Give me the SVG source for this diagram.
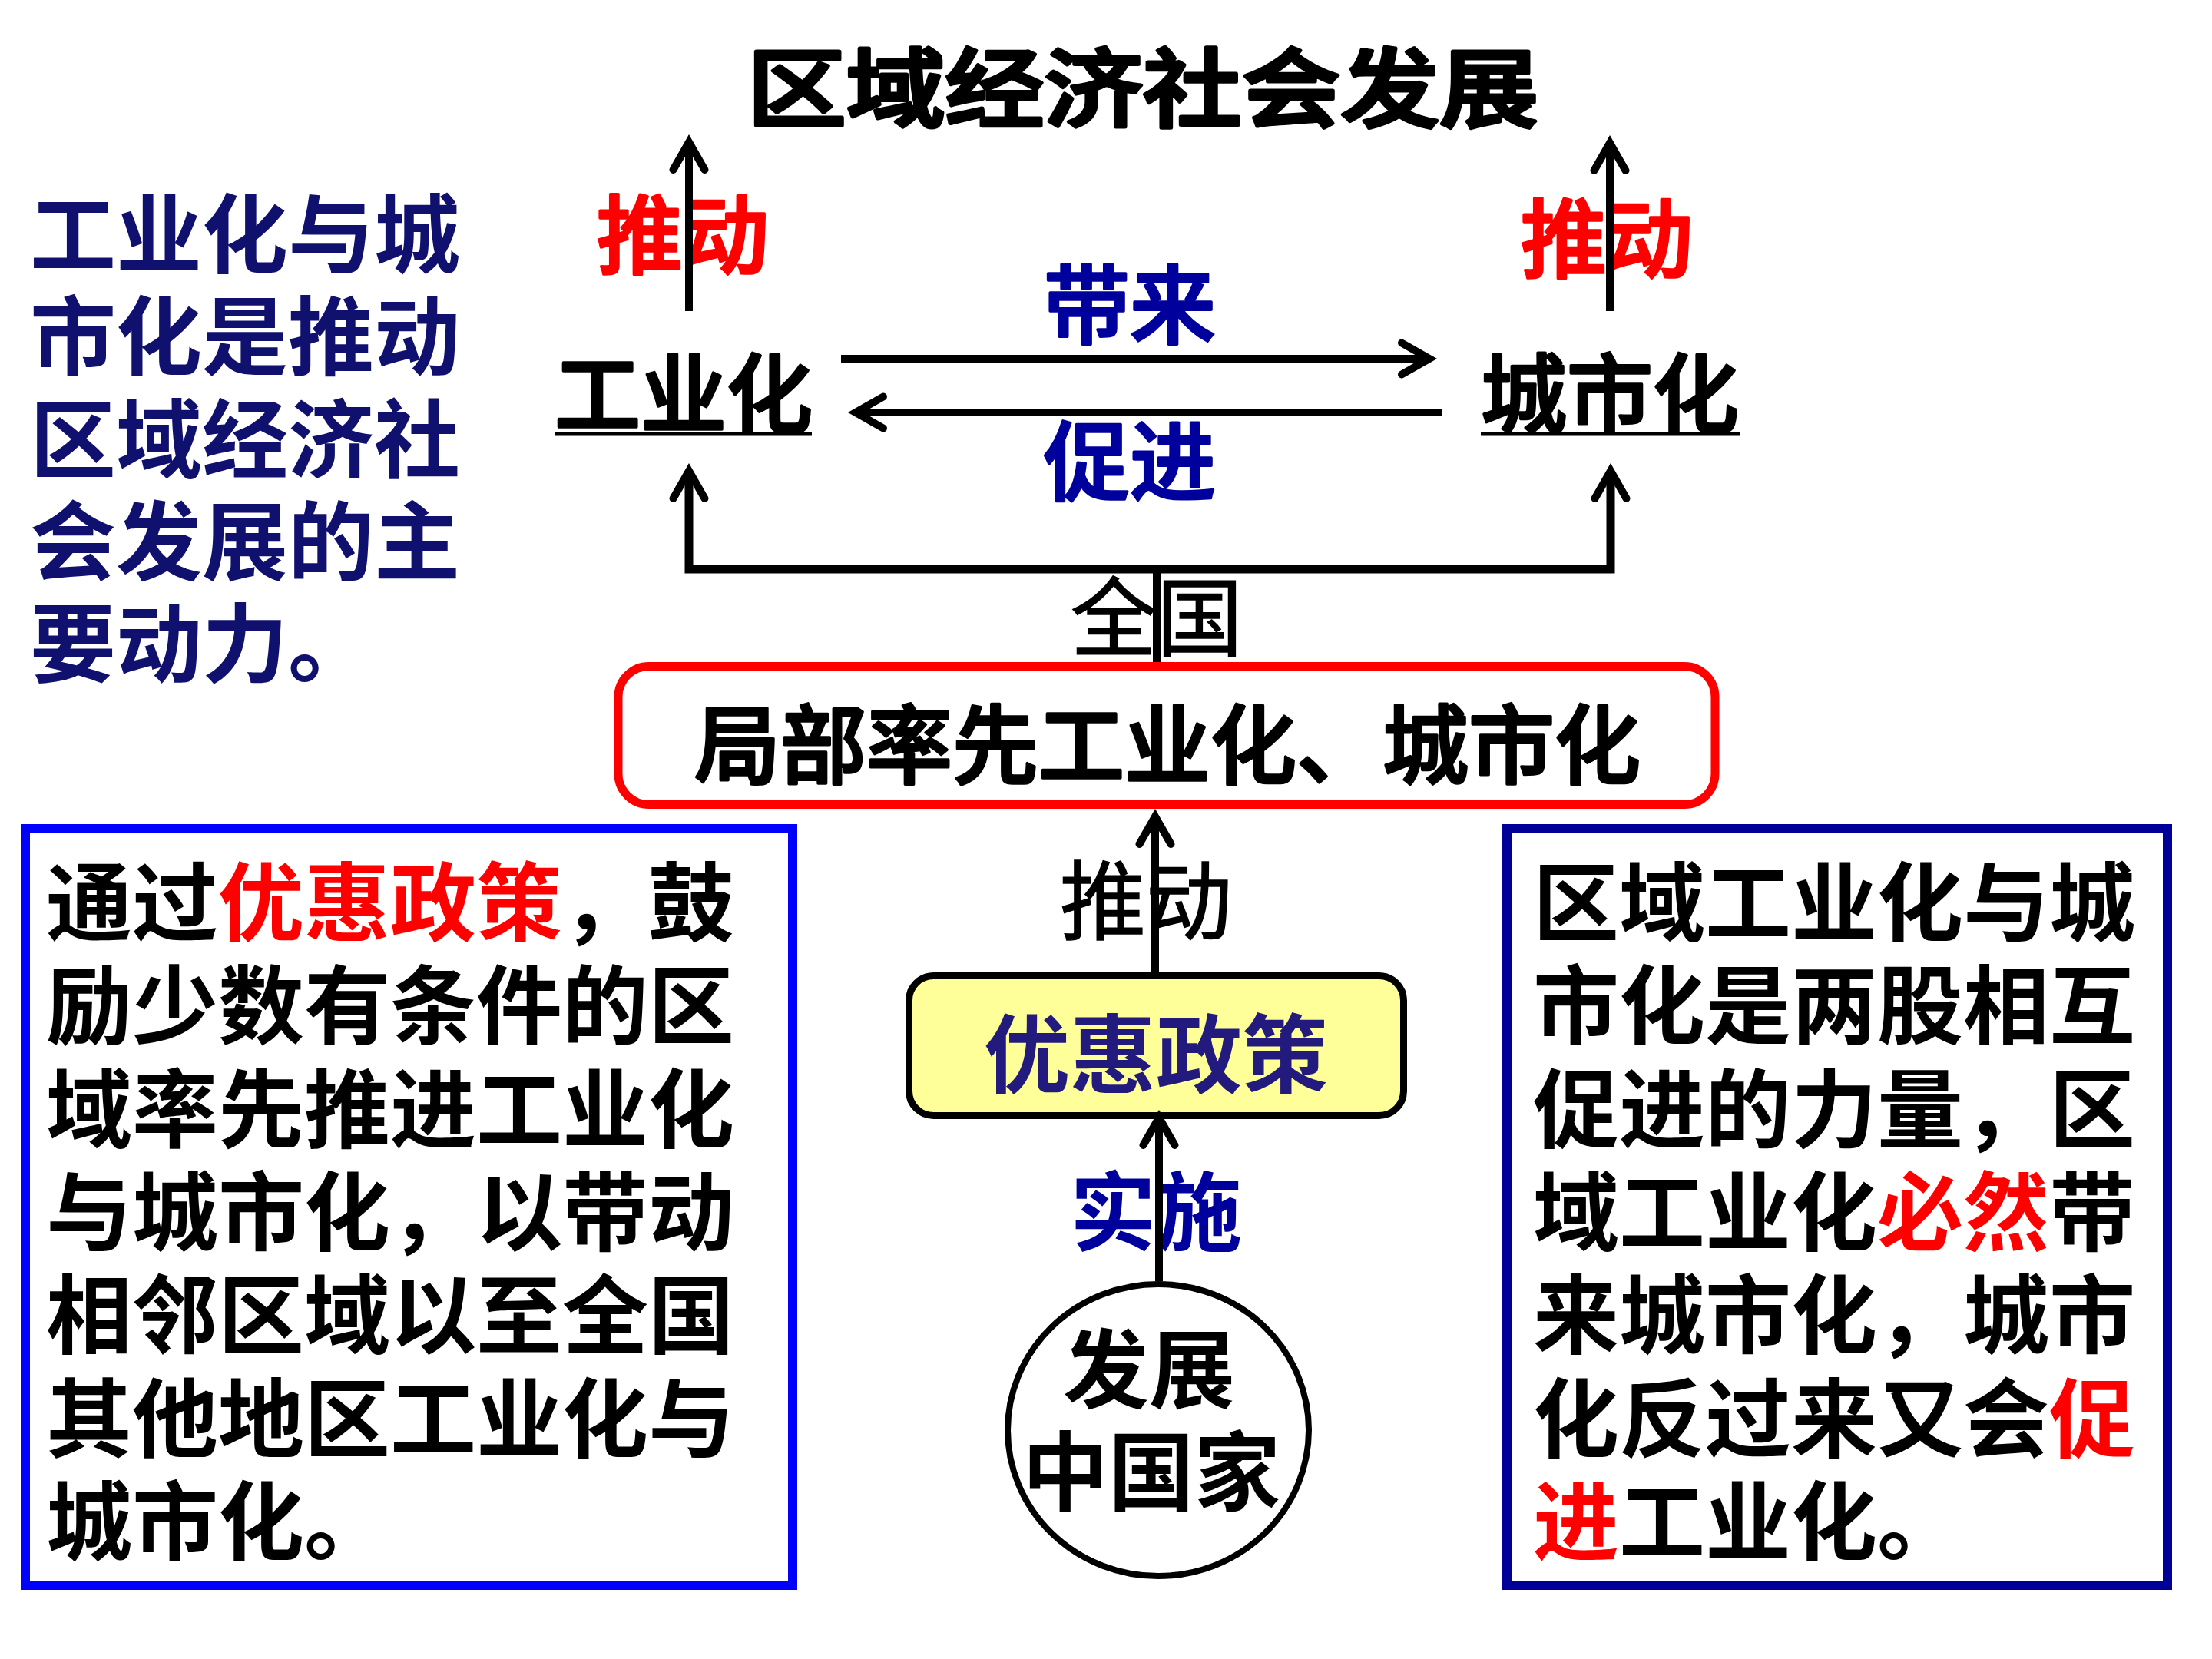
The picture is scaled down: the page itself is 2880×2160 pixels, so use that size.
<svg xmlns="http://www.w3.org/2000/svg" width="2880" height="2160" viewBox="0 0 2880 2160">
<style>
text{font-family:"Noto Sans CJK SC","Noto Sans CJK JP",sans-serif;font-size:112px}
.b{font-weight:700}
.m{font-weight:500}
.c{text-anchor:middle}
.red{fill:#FF0000}
.navy{fill:#10106E}
.blue{fill:#00009C}
.ink{fill:#000000}
.hk{stroke-width:3.5;stroke-linejoin:round}
.hk.ink{stroke:#000000}
.hk.red{stroke:#FF0000}
.hk.blue{stroke:#00009C}
.conn{fill:none;stroke:#000;stroke-width:10;stroke-linejoin:miter}
</style>
<defs>
<marker id="ah" viewBox="-60 -40 80 80" refX="0" refY="0" markerWidth="80" markerHeight="80" markerUnits="userSpaceOnUse" orient="auto-start-reverse">
<path d="M-36,-20.5 L0,0 L-36,20.5" fill="none" stroke="#000" stroke-width="10" stroke-linecap="round" stroke-linejoin="miter"/>
</marker>
</defs>
<rect x="0" y="0" width="2880" height="2160" fill="#FFFFFF"/>

<g id="title">
<text class="m c ink hk" x="1488" y="157" font-size="132" style="stroke-width:5" textLength="1030" lengthAdjust="spacingAndGlyphs">区域经济社会发展</text>
</g>

<g id="leftNote" class="b navy">
<text x="39" y="347">工业化与城</text>
<text x="39" y="480">市化是推动</text>
<text x="39" y="614">区域经济社</text>
<text x="39" y="747">会发展的主</text>
<text x="39" y="880">要动力。</text>
</g>

<g id="industrialization">
<text class="m c ink hk" x="890" y="555">工业化</text>
<line x1="722" y1="565" x2="1057" y2="565" stroke="#000" stroke-width="5"/>
</g>

<g id="urbanization">
<text class="m c ink hk" x="2096" y="555">城市化</text>
<line x1="1928" y1="565" x2="2265" y2="565" stroke="#000" stroke-width="5"/>
</g>

<g id="localFirst">
<rect x="805" y="867.5" width="1428" height="180" rx="40" ry="40" fill="#FFFFFF" stroke="#FF0000" stroke-width="11"/>
<text class="m c ink hk" x="1520" y="1012" font-size="113">局部率先工业化、城市化</text>
</g>

<g id="policy">
<rect x="1183.5" y="1270.5" width="644" height="182" rx="32" ry="32" fill="#FFFF99" stroke="#000" stroke-width="9"/>
<text class="b c" x="1505" y="1415" font-size="114" fill="#231A7D">优惠政策</text>
</g>

<g id="country">
<ellipse cx="1508" cy="1862" rx="196" ry="190" fill="#FFFFFF" stroke="#000" stroke-width="8"/>
<text class="b c ink" x="1496" y="1825">发展</text>
<text class="b c ink" x="1499" y="1958">中国家</text>
</g>

<g id="leftBox">
<rect x="33" y="1079" width="999" height="985" fill="#FFFFFF" stroke="#0000FF" stroke-width="12"/>
<g class="b ink">
<text x="60" y="1217">通过<tspan class="red">优惠政策</tspan>，鼓</text>
<text x="60" y="1351">励少数有条件的区</text>
<text x="60" y="1486">域率先推进工业化</text>
<text x="60" y="1620">与城市化，以带动</text>
<text x="60" y="1754">相邻区域以至全国</text>
<text x="60" y="1889">其他地区工业化与</text>
<text x="60" y="2023">城市化。</text>
</g>
</g>

<g id="rightBox">
<rect x="1962" y="1079" width="860" height="985" fill="#FFFFFF" stroke="#000099" stroke-width="12"/>
<g class="b ink">
<text x="1996" y="1217">区域工业化与城</text>
<text x="1996" y="1351">市化是两股相互</text>
<text x="1996" y="1486">促进的力量，区</text>
<text x="1996" y="1620">域工业化<tspan class="red">必然</tspan>带</text>
<text x="1996" y="1754">来城市化，城市</text>
<text x="1996" y="1889">化反过来又会<tspan class="red">促</tspan></text>
<text x="1996" y="2023"><tspan class="red">进</tspan>工业化。</text>
</g>
</g>

<g id="connectors">
<g id="connector-labels">
<text class="m c red hk" x="889" y="348" font-size="114">推动</text>
<text class="m c red hk" x="2092" y="353" font-size="114">推动</text>
<text class="m c blue hk" x="1471" y="439">带来</text>
<text class="m c blue hk" x="1471" y="643">促进</text>
<text class="c ink" x="1506" y="846" style="stroke:#000;stroke-width:1.5">全国</text>
<text class="c ink" x="1492" y="1215" style="stroke:#000;stroke-width:1.5">推动</text>
<text class="b c blue" x="1505" y="1620">实施</text>
</g>
<path class="conn" d="M897,405 L897,185" marker-end="url(#ah)"/>
<path class="conn" d="M2096,405 L2096,186" marker-end="url(#ah)"/>
<path class="conn" d="M1095,467 L1861,467" marker-end="url(#ah)"/>
<path class="conn" d="M1877,537 L1114,537" marker-end="url(#ah)"/>
<path class="conn" style="stroke-width:11" d="M897,613 L897,741 L2097,741 L2097,613" marker-start="url(#ah)" marker-end="url(#ah)"/>
<path class="conn" d="M1506,741 L1506,862"/>
<path class="conn" d="M1504,1266 L1504,1063" marker-end="url(#ah)"/>
<path class="conn" d="M1509,1668 L1509,1455" marker-end="url(#ah)"/>
</g>
</svg>
